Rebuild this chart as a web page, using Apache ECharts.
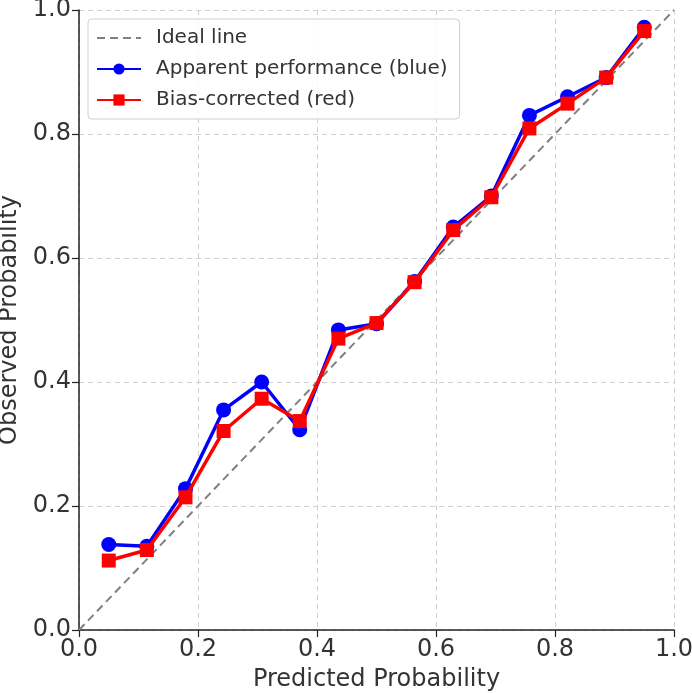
<!DOCTYPE html>
<html>
<head>
<meta charset="utf-8">
<script src="https://cdn.jsdelivr.net/npm/echarts@6/dist/echarts.min.js"></script>
<style>
  html, body { margin: 0; padding: 0; background: #fff; }
  #chart { width: 692px; height: 693px; }
</style>
</head>
<body>
<div id="chart"></div>
<script>
// predicted probability bins
const predicted = [0.05, 0.114, 0.179, 0.243, 0.307, 0.371, 0.436, 0.5, 0.564, 0.629, 0.693, 0.757, 0.821, 0.886, 0.95]
const apparent = [0.138, 0.135, 0.228, 0.355, 0.400, 0.323, 0.484, 0.494, 0.562, 0.650, 0.700, 0.830, 0.860, 0.891, 0.972]
const biasCorrected = [0.112, 0.129, 0.214, 0.321, 0.373, 0.337, 0.470, 0.495, 0.561, 0.645, 0.698, 0.809, 0.849, 0.891, 0.966]
const idealLine = [[0, 0], [1, 1]]

const font = 'DejaVu Sans'
const pair = (ys) => predicted.map((x, i) => [x, ys[i]])

const axisCommon = {
  type: 'value',
  min: 0,
  max: 1,
  interval: 0.2,
  nameLocation: 'middle',
  nameTextStyle: { fontFamily: font, fontSize: 24, color: '#333' },
  axisLine: { show: true, lineStyle: { color: '#222', width: 1.5 } },
  axisTick: { show: true, length: 7, lineStyle: { color: '#222', width: 1.2 } },
  axisLabel: {
    fontFamily: font,
    fontSize: 24,
    color: '#333',
    margin: 8,
    formatter: (v) => v.toFixed(1)
  },
  splitLine: { show: true, lineStyle: { color: '#cfcfcf', type: [5, 4], width: 1 } }
}

const chart = echarts.init(document.getElementById('chart'))
chart.setOption({
  animation: false,
  backgroundColor: '#fff',
  grid: { left: 79, right: 18, top: 10, bottom: 63, outerBoundsMode: 'none', containLabel: false },
  legend: {
    left: 88,
    top: 19,
    orient: 'vertical',
    itemWidth: 44,
    itemHeight: 14,
    itemGap: 11,
    padding: [9, 12, 9, 8],
    borderColor: '#d0d0d0',
    borderWidth: 1,
    borderRadius: 4,
    backgroundColor: 'rgba(255,255,255,0.85)',
    textStyle: { fontFamily: font, fontSize: 20, color: '#333', padding: [0, 0, 0, 10] },
    data: [
      { name: 'Ideal line', itemStyle: { opacity: 0 } },
      'Apparent performance (blue)',
      'Bias-corrected (red)'
    ]
  },
  xAxis: Object.assign({}, axisCommon, { name: 'Predicted Probability', nameGap: 38 }),
  yAxis: Object.assign({}, axisCommon, { name: 'Observed Probability', nameGap: 52 }),
  series: [
    {
      name: 'Ideal line',
      type: 'line',
      data: idealLine,
      symbol: 'none',
      lineStyle: { color: '#808080', width: 2, type: [8, 5] },
      itemStyle: { color: '#808080' },
      z: 1
    },
    {
      name: 'Apparent performance (blue)',
      type: 'line',
      data: pair(apparent),
      symbol: 'circle',
      symbolSize: 15,
      lineStyle: { color: '#0000ff', width: 3.5 },
      itemStyle: { color: '#0000ff' },
      z: 2
    },
    {
      name: 'Bias-corrected (red)',
      type: 'line',
      data: pair(biasCorrected),
      symbol: 'rect',
      symbolSize: 14,
      lineStyle: { color: '#ff0000', width: 3.5 },
      itemStyle: { color: '#ff0000' },
      z: 3
    }
  ]
})
</script>
</body>
</html>
